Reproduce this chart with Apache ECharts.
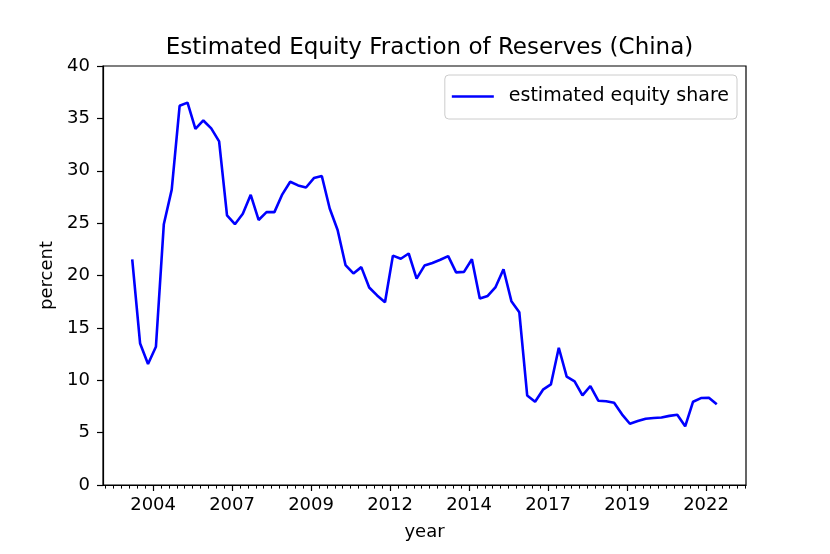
<!DOCTYPE html>
<html>
<head>
<meta charset="utf-8">
<script src="https://cdn.jsdelivr.net/npm/echarts@6/dist/echarts.min.js"></script>
<style>
  html, body { margin: 0; padding: 0; background: #fff; }
  #main { width: 830px; height: 554px; }
</style>
</head>
<body>
<div id="main"></div>
<script>
// quarterly observations, first one late 2003
var startYear = 2003.84;
var stepYears = 0.25;
// estimated equity share, percent
var equityShare = [
  21.55, 13.5, 11.55, 13.2, 24.9, 28.2, 36.2, 36.5, 34.0, 34.8,
  34.05, 32.8, 25.75, 24.9, 25.9, 27.7, 25.3, 26.05, 26.05, 27.75,
  28.95, 28.6, 28.4, 29.3, 29.5, 26.4, 24.35, 21.0, 20.2, 20.8,
  18.85, 18.1, 17.45, 21.9, 21.6, 22.1, 19.7, 20.95, 21.2, 21.5,
  21.85, 20.3, 20.35, 21.55, 17.8, 18.05, 18.9, 20.6, 17.55, 16.5,
  8.55, 7.95, 9.1, 9.6, 13.1, 10.35, 9.9, 8.55, 9.45, 8.05,
  8.0, 7.85, 6.75, 5.85, 6.1, 6.33, 6.4, 6.45, 6.6, 6.7,
  5.6, 7.95, 8.3, 8.33, 7.7
];
// x tick positions and the labels shown under them
var tickValues = [2004.5, 2007, 2009.5, 2012, 2014.5, 2017, 2019.5, 2022];
var tickLabels = ['2004', '2007', '2009', '2012', '2014', '2017', '2019', '2022'];

var xMin = 2002.915, xMax = 2023.265;

var seriesData = equityShare.map(function(v, i) {
  return [startYear + i * stepYears, v];
});

//minor ticks every quarter
var minorTicks = [];
for (var q = 2003; q <= xMax; q += 0.25) {
  minorTicks.push(q);
}

var font = 'DejaVu Sans';
var chart = echarts.init(document.getElementById('main'));

chart.setOption({
  animation: false,
  backgroundColor: '#fff',
  title: {
    text: 'Estimated Equity Fraction of Reserves (China)',
    left: 424.5,
    textAlign: 'center',
    top: 32,
    textStyle: { fontFamily: font, fontSize: 23, fontWeight: 'normal', color: '#000' }
  },
  legend: {
    right: 93,
    top: 75,
    padding: [12, 8, 13, 7],
    borderColor: '#cccccc',
    borderWidth: 1,
    borderRadius: 4,
    backgroundColor: 'rgba(255,255,255,0.8)',
    icon: 'rect',
    itemWidth: 42,
    itemHeight: 2.5,
    textStyle: { fontFamily: font, fontSize: 19, color: '#000', padding: [0, 0, 0, 10] },
    data: ['estimated equity share']
  },
  grid: {
    left: 103,
    right: 84,
    top: 66,
    bottom: 69,
    show: true,
    borderColor: '#000',
    borderWidth: 1.2,
    containLabel: false
  },
  xAxis: [{
    type: 'value',
    min: xMin,
    max: xMax,
    name: 'year',
    nameLocation: 'middle',
    nameGap: 38,
    nameTextStyle: { fontFamily: font, fontSize: 18, color: '#000' },
    splitLine: { show: false },
    axisLine: { show: true, lineStyle: { color: '#000', width: 1.2 } },
    axisTick: { show: true, length: 6, lineStyle: { color: '#000', width: 1.2 }, customValues: tickValues },
    axisLabel: {
      show: true,
      margin: 11,
      fontFamily: font,
      fontSize: 18,
      color: '#000',
      customValues: tickValues,
      formatter: function(v) {
        var k = tickValues.indexOf(v);
        return k >= 0 ? tickLabels[k] : '';
      }
    }
  }, {
    type: 'value',
    min: xMin,
    max: xMax,
    position: 'bottom',
    splitLine: { show: false },
    axisLine: { show: false },
    axisLabel: { show: false },
    axisTick: { show: true, length: 3.6, lineStyle: { color: '#000', width: 1 }, customValues: minorTicks }
  }],
  yAxis: {
    type: 'value',
    min: 0,
    max: 40,
    interval: 5,
    name: 'percent',
    nameLocation: 'middle',
    nameGap: 46,
    nameTextStyle: { fontFamily: font, fontSize: 18, color: '#000' },
    splitLine: { show: false },
    axisLine: { show: true, lineStyle: { color: '#000', width: 1.2 } },
    axisTick: { show: true, length: 6, lineStyle: { color: '#000', width: 1.2 } },
    axisLabel: { margin: 13, fontFamily: font, fontSize: 18, color: '#000' }
  },
  series: [{
    name: 'estimated equity share',
    type: 'line',
    xAxisIndex: 0,
    data: seriesData,
    symbol: 'none',
    lineStyle: { color: '#0000ff', width: 2.6 },
    itemStyle: { color: '#0000ff' }
  }]
});
</script>
</body>
</html>
